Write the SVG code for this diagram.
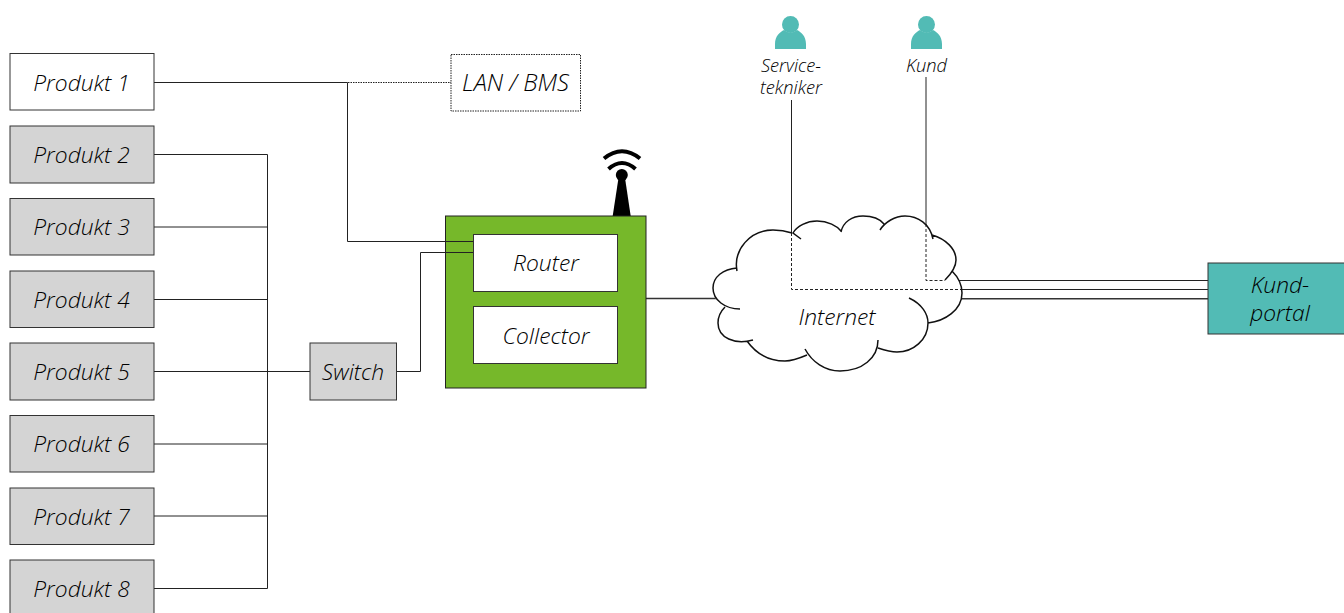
<svg xmlns="http://www.w3.org/2000/svg" width="1344" height="613" viewBox="0 0 1344 613">
<style>
text{font-family:"Open Sans","Noto Sans",sans-serif;font-style:italic;font-weight:300;fill:#000;text-anchor:middle}
.l{font-size:22.800px}.s{font-size:18.300px}.b{font-size:23.800px}
.box{stroke:#333;stroke-width:1}
.g{fill:#d4d4d4}.w{fill:#fff}.t{fill:#52bbb5}
.c{fill:none;stroke:#222;stroke-width:1}
.h{fill:none;stroke:#333;stroke-width:1.600}
.d{fill:none;stroke:#222;stroke-width:1;stroke-dasharray:3 2}
.dot{fill:none;stroke:#222;stroke-width:1;stroke-dasharray:1.500 1}
.cl{fill:none;stroke:#111;stroke-width:1.500}
</style>
<rect width="1344" height="613" fill="#fff"/>
<g id="connectors">
<path class="c" d="M154 82.500H347.500V241.500H473M154 154.500H267.500V588.500H154M154 227H267.500M154 299.500H267.500M154 371.500H310M154 444H267.500M154 516H267.500M396 371.500H420.500V252.500H473M955 280.500H1208M955 289.500H1208M791.500 100V236M926 77V238"/>
<path class="h" d="M646 298.500H716M955 298.700H1208"/>
<path class="dot" d="M348 82.500H451"/>
</g>
<g id="produkt-1"><rect class="box w" x="10" y="53.500" width="144" height="56.500"/><text class="l" x="81.500" y="90.500">Produkt 1</text></g>
<g id="produkt-2"><rect class="box g" x="10" y="126" width="144" height="57"/><text class="l" x="81.500" y="163">Produkt 2</text></g>
<g id="produkt-3"><rect class="box g" x="10" y="198.500" width="144" height="56.500"/><text class="l" x="81.500" y="235">Produkt 3</text></g>
<g id="produkt-4"><rect class="box g" x="10" y="271" width="144" height="56.500"/><text class="l" x="81.500" y="307.500">Produkt 4</text></g>
<g id="produkt-5"><rect class="box g" x="10" y="343" width="144" height="57"/><text class="l" x="81.500" y="379.500">Produkt 5</text></g>
<g id="produkt-6"><rect class="box g" x="10" y="415.500" width="144" height="56.500"/><text class="l" x="81.500" y="452">Produkt 6</text></g>
<g id="produkt-7"><rect class="box g" x="10" y="488" width="144" height="56.500"/><text class="l" x="81.500" y="524.500">Produkt 7</text></g>
<g id="produkt-8"><rect class="box g" x="10" y="560" width="144" height="57"/><text class="l" x="81.500" y="597">Produkt 8</text></g>
<g id="lan-bms"><rect class="dot" x="451" y="54.500" width="129.500" height="56.500"/><text class="b" x="515.500" y="90.500">LAN / BMS</text></g>
<g id="switch"><rect class="box g" x="310" y="343" width="86.500" height="57"/><text class="l" x="353" y="379.500">Switch</text></g>
<g id="gateway">
<path d="M612.700 216L618.500 178H625L630.700 216Z" fill="#000"/>
<circle cx="621.800" cy="175" r="6" fill="#000"/>
<path d="M604 158.500Q622 144 640 158.500M608.500 169Q622 157 635.500 169" fill="none" stroke="#000" stroke-width="4"/>
<rect x="445.500" y="216" width="200.500" height="172" fill="#76b82a" stroke="#222"/>
<path class="c" d="M446 241.500H473M446 252.500H473"/>
</g>
<g id="router"><rect class="box w" x="473.500" y="234.500" width="144" height="57"/><text class="l" x="546" y="270.500">Router</text></g>
<g id="collector"><rect class="box w" x="473.500" y="306.500" width="144" height="57"/><text class="l" x="546" y="343.500">Collector</text></g>
<g id="internet">
<path fill="#fff" d="M737 271C733 250 750 230 773 230C780 230 786 231 792 233C797 226 807 221 817 221C828 221 837 226 841 231C843 222 852 216 863 216C872 216 880 219 884 224C890 219 897 216 905 216C918 216 930 224 933 239C946 239 956 249 956 260C956 265 954 268 952 271C958 277 962 285 962 293C962 310 945 321 928 323C926 340 913 352 897 352C890 352 884 350 878 348C872 362 858 371 840 371C825 371 812 364 806 354C800 358 793 361 785 361C770 361 757 353 747 341C735 345 718 338 718 323C718 316 721 311 725 307C717 303 713 296 713 288C713 277 723 269 737 268Z"/>
<path class="d" d="M791.500 233V289.500H961M926 224V280.500H945"/>
<path class="cl" d="M737 271C733 250 750 230 773 230C780 230 786 231 792 233M801 239L793 233C797 226 807 221 817 221C828 221 837 226 841 231M841 232C843 222 852 216 863 216C872 216 880 219 884 224M880 230C885 222 895 216 905 216C918 216 930 224 933 239M932 235C946 239 956 249 956 260C956 268 951 274 945 280M952 271C958 277 962 285 962 293C962 310 945 321 928 323M909 298C922 304 928 314 928 323C928 340 913 352 897 352C890 352 884 350 878 348M878 340C878 358 862 371 840 371C825 371 812 362 805 349M807 355C800 358 793 361 785 361C770 361 757 355 747 341M753 340C735 345 718 338 718 323C718 316 721 311 725 307M737 268C723 269 713 277 713 288C713 300 725 309 740 309"/>
<text class="l" x="837" y="325">Internet</text>
</g>
<g id="kundportal"><rect class="box t" x="1208" y="263" width="137" height="71"/><text class="l" x="1280" y="293">Kund-</text><text class="l" x="1280" y="321">portal</text></g>
<g id="servicetekniker"><circle class="t" cx="790.500" cy="24.500" r="8.500"/><path class="t" d="M775 49V44C775 36 780 32 784 30Q790.500 35 797 30C801 32 806 36 806 44V49Z"/><text class="s" x="791" y="72">Service-</text><text class="s" x="791" y="94">tekniker</text></g>
<g id="kund"><circle class="t" cx="926.500" cy="24.500" r="8.500"/><path class="t" d="M911 49V44C911 36 916 32 920 30Q926.500 35 933 30C937 32 942 36 942 44V49Z"/><text class="s" x="926.500" y="72">Kund</text></g>
</svg>
